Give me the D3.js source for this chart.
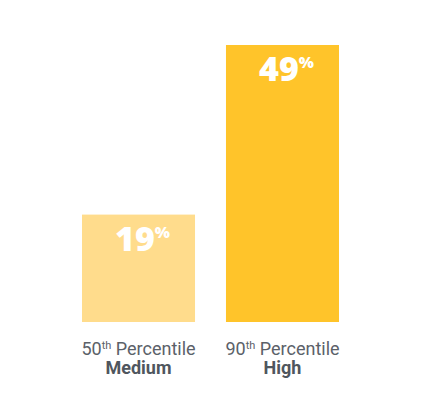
<!DOCTYPE html>
<html>
<head>
<meta charset="utf-8">
<script src="https://cdn.jsdelivr.net/npm/d3@7"></script>
<style>
  body { margin: 0; background: #fff; }
</style>
</head>
<body>
<div id="chart"></div>
<script>
var width = 437;
var height = 404;

// Data
var ordinals = ["50", "90"];
var levels = ["Medium", "High"];
var values = [19, 49];
var colors = ["#FFDC8C", "#FFC42A"];

var svg = d3.select("#chart")
  .append("svg")
  .attr("width", width)
  .attr("height", height);

var x = d3.scaleBand()
  .domain(ordinals)
  .range([82, 339])
  .paddingInner(0.215)
  .paddingOuter(0);

var y = d3.scaleLinear()
  .domain([0, 49])
  .range([322, 45]);

// Bars
svg.selectAll("rect.bar")
  .data(values)
  .enter().append("rect")
    .attr("class", "bar")
    .attr("x", function (d, i) { return x(ordinals[i]); })
    .attr("y", function (d) { return y(d); })
    .attr("width", x.bandwidth())
    .attr("height", function (d) { return y(0) - y(d); })
    .attr("fill", function (d, i) { return colors[i]; });

// Value labels
var vl = svg.selectAll("text.value")
  .data(values)
  .enter().append("text")
    .attr("class", "value")
    .attr("x", function (d, i) { return x(ordinals[i]) + x.bandwidth() / 2 + 4; })
    .attr("y", function (d) { return y(d) + 36; })
    .attr("text-anchor", "middle")
    .attr("fill", "#fff")
    .style("font-family", "'Open Sans', sans-serif")
    .style("font-weight", 800)
    .style("font-size", "34px");
vl.append("tspan").text(function (d) { return d; });
vl.append("tspan")
  .attr("dy", -13)
  .style("font-size", "16px")
  .text("%");

// Category labels
var cl = svg.selectAll("text.cat")
  .data(ordinals)
  .enter().append("text")
    .attr("class", "cat")
    .attr("x", function (d) { return x(d) + x.bandwidth() / 2; })
    .attr("y", 355)
    .attr("text-anchor", "middle")
    .attr("fill", "#5b6169")
    .style("font-family", "Roboto, sans-serif")
    .style("font-size", "18px");
cl.append("tspan").text(function (d) { return d; });
cl.append("tspan")
  .attr("dy", -6)
  .style("font-size", "11px")
  .text("th");
cl.append("tspan")
  .attr("dy", 6)
  .text(" Percentile");

svg.selectAll("text.level")
  .data(levels)
  .enter().append("text")
    .attr("class", "level")
    .attr("x", function (d, i) { return x(ordinals[i]) + x.bandwidth() / 2; })
    .attr("y", 374)
    .attr("text-anchor", "middle")
    .attr("fill", "#4f565e")
    .style("font-family", "Roboto, sans-serif")
    .style("font-weight", 700)
    .style("font-size", "18px")
    .text(function (d) { return d; });
</script>
</body>
</html>
